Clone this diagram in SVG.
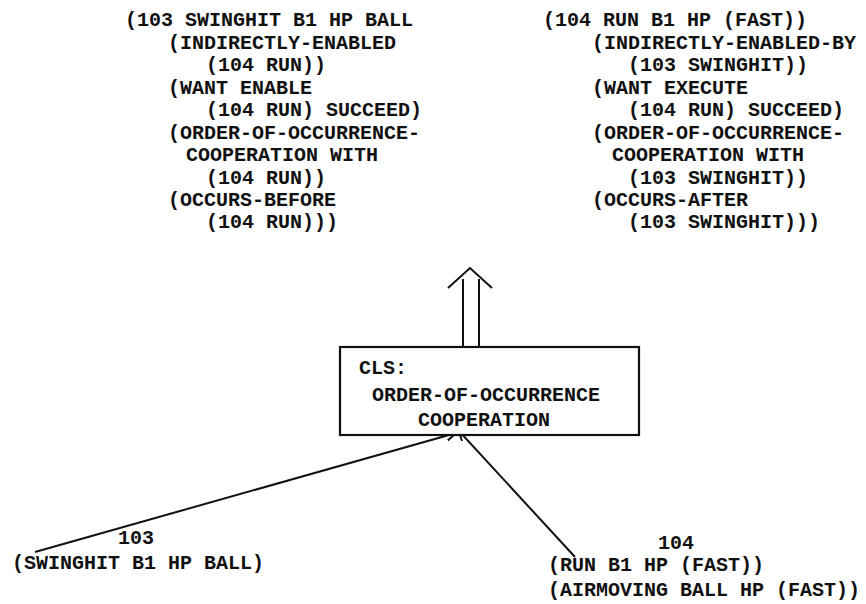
<svg xmlns="http://www.w3.org/2000/svg" width="866" height="604" viewBox="0 0 866 604">
<style>
  text { font-family: "Liberation Mono", "DejaVu Sans Mono", monospace; font-size: 20px; font-weight: bold; fill: #111; white-space: pre; }
  .line { stroke: #111; stroke-width: 2; fill: none; }
  .box { stroke: #111; stroke-width: 2.2; fill: #fff; }
</style>
<defs>
  <marker id="ah" markerWidth="12" markerHeight="12" refX="10" refY="5" orient="auto" markerUnits="userSpaceOnUse">
    <path d="M0,0 L10,5 L0,10" fill="none" stroke="#111" stroke-width="2"/>
  </marker>
</defs>
<rect width="866" height="604" fill="#fff"/>

<g id="node-103-frame">
  <text x="125" y="26">(103 SWINGHIT B1 HP BALL</text>
  <text x="168" y="49">(INDIRECTLY-ENABLED</text>
  <text x="206" y="71">(104 RUN))</text>
  <text x="168" y="94">(WANT ENABLE</text>
  <text x="206" y="116">(104 RUN) SUCCEED)</text>
  <text x="168" y="139">(ORDER-OF-OCCURRENCE-</text>
  <text x="186" y="161">COOPERATION WITH</text>
  <text x="206" y="184">(104 RUN))</text>
  <text x="168" y="206">(OCCURS-BEFORE</text>
  <text x="206" y="228">(104 RUN)))</text>
</g>

<g id="node-104-frame">
  <text x="543" y="26">(104 RUN B1 HP (FAST))</text>
  <text x="592" y="49">(INDIRECTLY-ENABLED-BY</text>
  <text x="628" y="71">(103 SWINGHIT))</text>
  <text x="592" y="94">(WANT EXECUTE</text>
  <text x="628" y="116">(104 RUN) SUCCEED)</text>
  <text x="592" y="139">(ORDER-OF-OCCURRENCE-</text>
  <text x="612" y="161">COOPERATION WITH</text>
  <text x="628" y="184">(103 SWINGHIT))</text>
  <text x="592" y="206">(OCCURS-AFTER</text>
  <text x="628" y="228">(103 SWINGHIT)))</text>
</g>

<g id="connectors">
  <path class="line" d="M463,347 V279 M479,347 V279 M448,288 L470,268 L492,288"/>
  <line class="line" x1="35" y1="552" x2="456" y2="433" marker-end="url(#ah)"/>
  <line class="line" x1="575" y1="557" x2="459" y2="431" marker-end="url(#ah)"/>
</g>

<g id="node-cls">
  <rect class="box" x="340" y="347" width="299" height="88"/>
  <text x="359" y="374">CLS:</text>
  <text x="372" y="401">ORDER-OF-OCCURRENCE</text>
  <text x="418" y="426">COOPERATION</text>
</g>

<g id="node-103">
  <text x="118" y="544">103</text>
  <text x="12" y="569">(SWINGHIT B1 HP BALL)</text>
</g>

<g id="node-104">
  <text x="658" y="549">104</text>
  <text x="548" y="571">(RUN B1 HP (FAST))</text>
  <text x="548" y="596">(AIRMOVING BALL HP (FAST))</text>
</g>
</svg>
